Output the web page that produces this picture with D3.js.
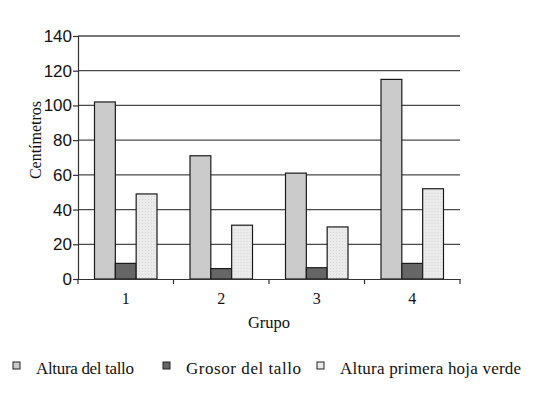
<!DOCTYPE html>
<html>
<head>
<meta charset="utf-8">
<script src="https://cdn.jsdelivr.net/npm/d3@7"></script>
<style>
  body { margin: 0; background: #fff; }
  .ytick text { font-family: Arial, "Liberation Sans", sans-serif; font-size: 17px; fill: #111; }
  .xtick text { font-family: "Liberation Serif", "Times New Roman", serif; font-size: 16px; fill: #111; }
  .serif { font-family: "Liberation Serif", "Times New Roman", serif; fill: #111; }
</style>
</head>
<body>
<script>
// groups on the x axis
var groups = ["1", "2", "3", "4"];
// series names
var series = ["Altura del tallo", "Grosor del tallo", "Altura primera hoja verde"];
// values per series, one per group
var alturaTallo = [102, 71, 61, 115];
var grosorTallo = [9, 6, 6.5, 9];
var alturaHoja = [49, 31, 30, 52];
var yTicks = [0, 20, 40, 60, 80, 100, 120, 140];

var colors = ["#cbcbcb", "#666666", "#ebebeb"];

var margin = {top: 36, left: 78},
    width = 382,
    height = 243;

var svg = d3.select("body").append("svg")
    .attr("width", 542)
    .attr("height", 397);

// light dotted fill of the third series
var pat = svg.append("defs").append("pattern")
    .attr("id", "dots")
    .attr("width", 3).attr("height", 3)
    .attr("patternUnits", "userSpaceOnUse");
pat.append("rect").attr("width", 3).attr("height", 3).attr("fill", "#ebebeb");
pat.append("rect").attr("x", 1).attr("y", 1).attr("width", 1).attr("height", 1).attr("fill", "#d6d6d6");

var g = svg.append("g")
    .attr("transform", "translate(" + margin.left + "," + margin.top + ")");

var x = d3.scaleBand().domain(groups).range([0, width]).padding(0);
var x1 = d3.scaleBand().domain(series).range([16.5, x.bandwidth() - 16.5]).padding(0);
var y = d3.scaleLinear().domain([0, 140]).range([height, 0]);

// gridlines
g.selectAll(".grid")
    .data(yTicks.filter(function(d){ return d > 0; }))
    .enter().append("line")
    .attr("x1", 0).attr("x2", width)
    .attr("y1", function(d){ return y(d); })
    .attr("y2", function(d){ return y(d); })
    .attr("stroke", "#4a4a4a")
    .attr("stroke-width", 1.3);

// bars
var data = groups.map(function(grp, i){
    return {group: grp, values: [alturaTallo[i], grosorTallo[i], alturaHoja[i]]};
});

var grp = g.selectAll(".grp")
    .data(data)
    .enter().append("g")
    .attr("transform", function(d){ return "translate(" + x(d.group) + ",0)"; });

grp.selectAll("rect")
    .data(function(d){ return d.values.map(function(v, j){ return {s: series[j], v: v, j: j}; }); })
    .enter().append("rect")
    .attr("x", function(d){ return x1(d.s); })
    .attr("width", x1.bandwidth())
    .attr("y", function(d){ return y(d.v); })
    .attr("height", function(d){ return height - y(d.v); })
    .attr("fill", function(d){ return d.j === 2 ? "url(#dots)" : colors[d.j]; })
    .attr("stroke", "#1a1a1a")
    .attr("stroke-width", 1.2);

// y axis
var yAxis = g.append("g")
    .attr("class", "ytick")
    .call(d3.axisLeft(y).tickValues(yTicks).tickSize(5).tickPadding(1));
yAxis.select(".domain").attr("stroke", "#333").attr("stroke-width", 1.2);
yAxis.selectAll(".tick line").attr("stroke", "#333").attr("stroke-width", 1.2);

// x axis, ticks at the group boundaries
var xAxis = g.append("g")
    .attr("class", "xtick")
    .attr("transform", "translate(0," + height + ")")
    .call(d3.axisBottom(x).tickSize(0).tickPadding(14));
xAxis.select(".domain").attr("stroke", "#333").attr("stroke-width", 1.2);
xAxis.selectAll(".bound")
    .data(groups.concat(["end"]))
    .enter().append("line")
    .attr("x1", function(d, i){ return i * x.bandwidth(); })
    .attr("x2", function(d, i){ return i * x.bandwidth(); })
    .attr("y1", 0).attr("y2", 5)
    .attr("stroke", "#333").attr("stroke-width", 1.2);

// axis titles
svg.append("text")
    .attr("class", "serif")
    .attr("x", 269).attr("y", 328)
    .attr("text-anchor", "middle")
    .style("font-size", "16.5px")
    .text("Grupo");

svg.append("text")
    .attr("class", "serif")
    .attr("transform", "translate(41,140) rotate(-90)")
    .attr("text-anchor", "middle")
    .style("font-size", "16px")
    .text("Centímetros");

// legend
var legX = [13, 163, 317];
var legW = [98, 115, 181];
var leg = svg.selectAll(".leg")
    .data(series)
    .enter().append("g")
    .attr("transform", function(d, i){ return "translate(" + legX[i] + ",362)"; });
leg.append("rect")
    .attr("width", 7).attr("height", 7)
    .attr("fill", function(d, i){ return colors[i]; })
    .attr("stroke", "#222").attr("stroke-width", 1);
leg.append("text")
    .attr("class", "serif")
    .attr("x", 23).attr("y", 12)
    .attr("textLength", function(d, i){ return legW[i]; })
    .attr("lengthAdjust", "spacing")
    .style("font-size", "17px")
    .text(function(d){ return d; });
</script>
</body>
</html>
